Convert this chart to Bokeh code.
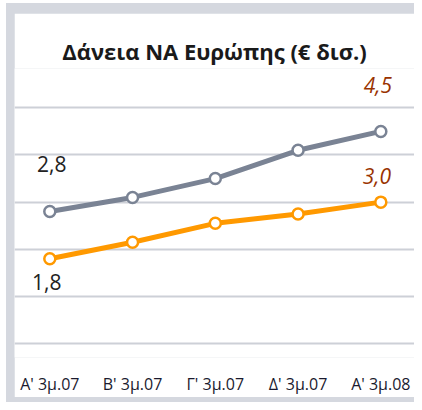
from bokeh.plotting import figure
from bokeh.layouts import column, row, Spacer
from bokeh.models import Range1d, FixedTicker, ColumnDataSource
from bokeh.core.properties import value
from bokeh.embed import file_html
from bokeh.resources import INLINE

title = "Δάνεια ΝΑ Ευρώπης (€ δισ.)"
categories = ["Α' 3μ.07", "Β' 3μ.07", "Γ' 3μ.07", "Δ' 3μ.07", "Α' 3μ.08"]
grey_values = [2.8, 3.1, 3.5, 4.1, 4.5]
orange_values = [1.8, 2.15, 2.55, 2.75, 3.0]
y_ticks = [0, 1, 2, 3, 4, 5]

GREY = "#7A8394"
ORANGE = "#FF9900"
FRAME = "#D5D8DF"
GRID = "#CDD0D7"

xs = list(range(len(categories)))

p = figure(width=400, height=384, output_backend="svg", toolbar_location=None,
           x_range=Range1d(-0.4266, 4.407), y_range=Range1d(-0.296, 5.835),
           min_border_left=0, min_border_right=0, min_border_top=55, min_border_bottom=39)
p.margin = (10, 0, 5, 8)

p.title.text = title
p.title.align = "center"
p.title.text_font = "Open Sans"
p.title.text_font_size = "22px"
p.title.text_font_style = "bold"
p.title.text_color = "#1a1a1a"
p.title.standoff = 6

p.outline_line_color = None
p.background_fill_color = "white"
p.border_fill_color = "white"

p.yaxis.visible = False
p.ygrid.ticker = FixedTicker(ticks=y_ticks)
p.ygrid.grid_line_color = GRID
p.ygrid.grid_line_width = 2
p.xgrid.grid_line_color = None

p.xaxis.ticker = FixedTicker(ticks=xs)
p.xaxis.major_label_overrides = {i: c for i, c in zip(xs, categories)}
p.xaxis.axis_line_color = None
p.xaxis.major_tick_line_color = None
p.xaxis.minor_tick_line_color = None
p.xaxis.major_label_standoff = 9
p.xaxis.major_label_text_font = "Open Sans"
p.xaxis.major_label_text_font_size = "16px"
p.xaxis.major_label_text_color = "#1a1a2e"

for vals, col in ((grey_values, GREY), (orange_values, ORANGE)):
    p.line(xs, vals, line_color=col, line_width=5)
    p.scatter(xs, vals, marker="circle", size=11, fill_color="white",
              line_color=col, line_width=2.5)

def fmt(v):
    return f"{v:.1f}".replace(".", ",")

lab = ColumnDataSource(dict(
    x=[xs[0], xs[-1], xs[0], xs[-1]],
    y=[grey_values[0], grey_values[-1], orange_values[0], orange_values[-1]],
    text=[fmt(grey_values[0]), fmt(grey_values[-1]), fmt(orange_values[0]), fmt(orange_values[-1])],
    dx=[2, -3, -3, -4],
    dy=[-47.6, -46.7, 23, -26.6],
    color=["#222222", "#993300", "#222222", "#993300"],
    style=["normal", "italic", "normal", "italic"],
))
p.text(x="x", y="y", text="text", x_offset="dx", y_offset="dy", text_color="color",
       text_font_style="style", source=lab, text_align="center", text_baseline="middle",
       text_font=value("Open Sans"), text_font_size="21px")

inner = column(p, styles={"background-color": FRAME})
layout = column(Spacer(width=414, height=3), row(Spacer(width=6, height=10), inner))
open("out.html", "w").write(file_html(layout, INLINE))
